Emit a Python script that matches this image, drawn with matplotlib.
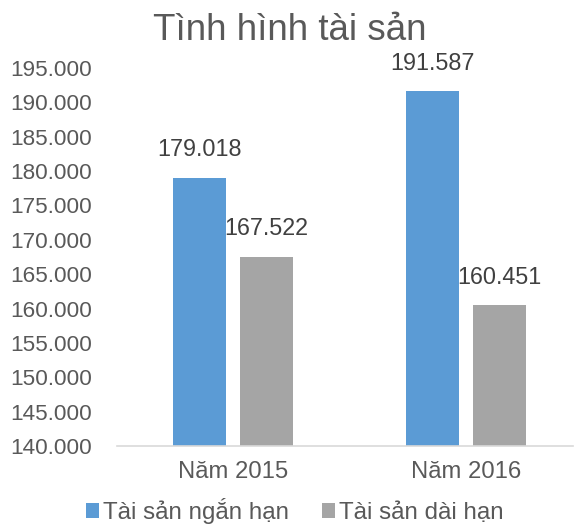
import numpy as np
import matplotlib.pyplot as plt

plt.rcParams['font.family'] = ['Liberation Sans', 'DejaVu Sans']

# du lieu
years = ['Năm 2015', 'Năm 2016']
ngan_han = [179018, 191587]
dai_han = [167522, 160451]
series_names = ['Tài sản ngắn hạn', 'Tài sản dài hạn']
yticks = list(range(140000, 195001, 5000))

blue = '#5B9BD5'
gray = '#A5A5A5'
txt = '#595959'


def fmt(v):
    return f'{v:,.0f}'.replace(',', '.')


fig = plt.figure(figsize=(5.74, 5.24), dpi=100)
W, H = 574, 524
ax = fig.add_axes([117 / W, 1 - 446 / H, (573 - 117) / W, (446 - 68) / H])

x = np.arange(len(years))
w = 0.227
b1 = ax.bar(x - 0.143, ngan_han, w, color=blue, label=series_names[0])
b2 = ax.bar(x + 0.143, dai_han, w, color=gray, label=series_names[1])

for bars in (b1, b2):
    for r in bars:
        ax.annotate(fmt(r.get_height()), (r.get_x() + r.get_width() / 2, r.get_height()),
                    xytext=(0, 12), textcoords='offset points', ha='center', va='bottom',
                    fontsize=16.8, color='#404040')

ax.set_xlim(-0.497, 1.46)
ax.set_ylim(140000, 195000)
ax.set_yticks(yticks)
ax.set_yticklabels([fmt(t) for t in yticks])
ax.set_xticks(x)
ax.set_xticklabels(years)
ax.tick_params(axis='both', length=0, labelcolor=txt)
ax.tick_params(axis='y', pad=18, labelsize=16.2)
ax.tick_params(axis='x', pad=11, labelsize=17.2)
for s in ['top', 'right', 'left']:
    ax.spines[s].set_visible(False)
ax.spines['bottom'].set_color('#D9D9D9')
ax.spines['bottom'].set_linewidth(1.2)

fig.text(290 / W, 1 - 31 / H, 'Tình hình tài sản', ha='center', va='center',
         fontsize=26.5, color=txt)

fig.legend(handles=[b1, b2], loc='center', bbox_to_anchor=(295 / W, 1 - 511 / H),
           ncol=2, frameon=False, fontsize=17.4, labelcolor=txt,
           handlelength=0.54, handleheight=0.54, handletextpad=0.17, columnspacing=1.37,
           borderpad=0, borderaxespad=0)

fig.savefig('out.png', dpi=100)
